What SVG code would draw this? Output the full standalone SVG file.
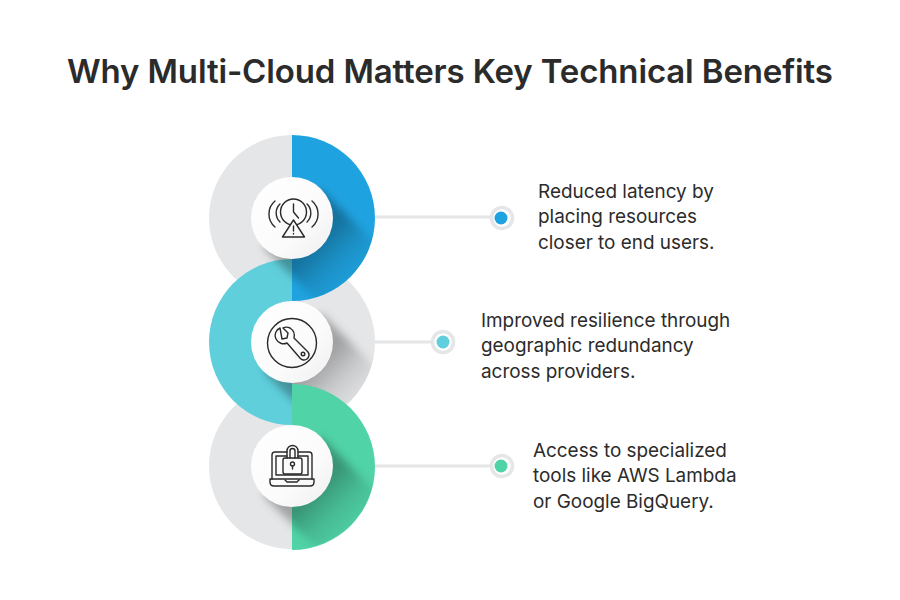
<svg xmlns="http://www.w3.org/2000/svg" width="900" height="600" viewBox="0 0 900 600">
<style>
.t{font-family:"Inter","Liberation Sans",sans-serif;fill:#2b2b2b}
.title{font-size:33px;font-weight:600}
.b{font-size:18.900px}
.ln{stroke:#e5e6e8;stroke-width:3;fill:none}
.ring{fill:#fff;stroke:#e5e6e8;stroke-width:3.500}
.ic{fill:none;stroke:#2a2a2a;stroke-width:1.400;stroke-linecap:round;stroke-linejoin:round}
.wh{fill:url(#w)}
</style>
<defs>
<linearGradient id="s" gradientUnits="userSpaceOnUse" x1="24" y1="24" x2="66" y2="66"><stop offset="0" stop-color="#000" stop-opacity=".3"/><stop offset=".45" stop-color="#000" stop-opacity=".12"/><stop offset="1" stop-color="#000" stop-opacity="0"/></linearGradient>
<linearGradient id="w" x1="0" y1="0" x2="1" y2="1"><stop offset="0" stop-color="#fff"/><stop offset=".6" stop-color="#fbfbfb"/><stop offset="1" stop-color="#efefef"/></linearGradient>
<filter id="bl" x="-30%" y="-30%" width="160%" height="160%"><feGaussianBlur stdDeviation="4"/></filter>
<clipPath id="c"><circle cx="0" cy="0" r="83"/></clipPath>
<g id="sh"><g clip-path="url(#c)"><path filter="url(#bl)" fill="url(#s)" d="M-29 29L29 -29L109 51L51 109z"/></g></g>
</defs>
<rect width="900" height="600" fill="#fff"/>
<text class="t title" x="450" y="83" text-anchor="middle" textLength="766" lengthAdjust="spacing">Why Multi-Cloud Matters Key Technical Benefits</text>
<g id="connectors">
<line class="ln" x1="375" y1="217" x2="490" y2="217"/>
<line class="ln" x1="375" y1="342" x2="432" y2="342"/>
<line class="ln" x1="375" y1="466" x2="490" y2="466"/>
</g>
<g id="rings">
<path fill="#e5e6e8" d="M292 259a83 83 0 0 1 0 166z"/>
<path fill="#e5e6e8" d="M292 383a83 83 0 0 0 0 166z"/>
<path fill="#e5e6e8" d="M292 135a83 83 0 0 0 0 166z"/>
<path fill="#1fa3e0" d="M292 135a83 83 0 0 1 0 166z"/>
<path fill="#5fcfdc" d="M292 259a83 83 0 0 0 0 166z"/>
<use href="#sh" x="292" y="342"/>
<path fill="#50d3a6" d="M292 384a83 83 0 0 1 0 166z"/>
<use href="#sh" x="292" y="218"/>
<use href="#sh" x="292" y="466"/>
</g>
<g id="node1">
<circle class="wh" cx="292" cy="218" r="41"/>
<g class="ic">
<circle cx="293.500" cy="212" r="13"/>
<path d="M293.500 204v8l5 6"/>
<path d="M280 204a12.500 12.500 0 0 0 0 18M307 204a12.500 12.500 0 0 1 0 18M275 201a17 17 0 0 0 0 26M312 201a17 17 0 0 1 0 26"/>
<path d="M293.500 220l11 17h-22z" fill="#fbfbfb"/>
<path d="M293.500 226v5M293.500 233.500v.6"/>
</g>
<circle cx="502" cy="218" r="10.500" class="ring"/>
<circle cx="501" cy="218" r="6.500" fill="#1fa3e0"/>
<text class="t b"><tspan x="538" y="198">Reduced latency by</tspan><tspan x="538" y="223">placing resources</tspan><tspan x="538" y="249">closer to end users.</tspan></text>
</g>
<g id="node2">
<circle class="wh" cx="292" cy="342" r="41"/>
<g class="ic">
<circle cx="292" cy="343" r="24.500"/>
<path d="M280 328a8 8 0 0 0-4 11c2 4 7 6 11 4l13 15a5 5 0 0 0 8-6l-14-14c1-4-1-8-4-10-2-1-5-1-7 0l5 5-1 5-5 1z"/>
<circle cx="303" cy="354" r="1.800"/>
</g>
<circle cx="443" cy="342" r="10.500" class="ring"/>
<circle cx="443" cy="342" r="6.500" fill="#5fcfdc"/>
<text class="t b"><tspan x="481" y="327">Improved resilience through</tspan><tspan x="481" y="352">geographic redundancy</tspan><tspan x="481" y="378">across providers.</tspan></text>
</g>
<g id="node3">
<circle class="wh" cx="292" cy="466" r="41"/>
<g class="ic">
<path d="M272 479v-24a3 3 0 0 1 3-3h12M298 452h11a3 3 0 0 1 3 3v24"/>
<path d="M276 475v-19h11M298 456h10v19M276 475h32"/>
<path d="M270 479h44v3q0 4-4 4h-36q-4 0-4-4z"/>
<path d="M285 480l2 2h10l2-2"/>
<rect x="283" y="458" width="19" height="16" rx="2" fill="#fbfbfb"/>
<path d="M287 458v-7a5.500 5.500 0 0 1 11 0v7M290 458v-7a2.500 2.500 0 0 1 5 0v7"/>
<circle cx="292.500" cy="464" r="2"/><path d="M292.500 466v3"/>
</g>
<circle cx="502" cy="466" r="10.500" class="ring"/>
<circle cx="501" cy="466" r="6.500" fill="#50d3a6"/>
<text class="t b"><tspan x="533" y="457">Access to specialized</tspan><tspan x="533" y="482">tools like AWS Lambda</tspan><tspan x="533" y="508">or Google BigQuery.</tspan></text>
</g>
</svg>
